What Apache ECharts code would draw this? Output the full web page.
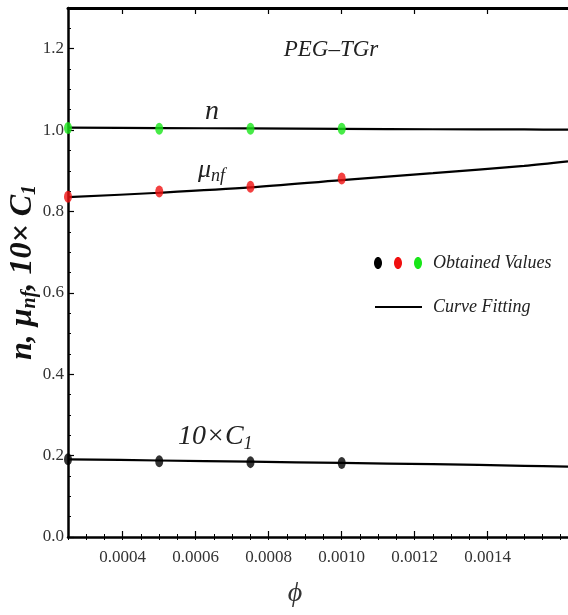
<!DOCTYPE html>
<html><head><meta charset="utf-8">
<script src="https://cdn.jsdelivr.net/npm/echarts@6/dist/echarts.min.js"></script>
<style>html,body{margin:0;padding:0;background:#fff}#c{width:568px;height:615px}</style>
</head><body><div id="c"></div>
<script>
// Observed data
const phiPoints = [0.00025, 0.0005, 0.00075, 0.001];
const nValues = [1.005, 1.003, 1.003, 1.003];
const muValues = [0.836, 0.849, 0.861, 0.881];
const c1Values = [0.191, 0.186, 0.184, 0.182];
// Fitted curves
const phiFit = [0.00025, 0.0005, 0.00075, 0.001, 0.00125, 0.0015, 0.00162];
const nFit = [1.006, 1.005, 1.004, 1.003, 1.002, 1.0015, 1.001];
const muFit = [0.835, 0.846, 0.859, 0.877, 0.894, 0.912, 0.923];
const c1Fit = [0.191, 0.188, 0.185, 0.182, 0.179, 0.175, 0.173];
// Tick labels
const xTicks = [0.0004, 0.0006, 0.0008, 0.0010, 0.0012, 0.0014];
const yTicks = [0.0, 0.2, 0.4, 0.6, 0.8, 1.0, 1.2];

const xMinor = [];
for (let i = 5; i <= 32; i++) xMinor.push(+(i * 0.00005).toFixed(5));
const yMinor = [];
for (let i = 0; i <= 26; i++) yMinor.push(+(i * 0.05).toFixed(2));

const zip = (xs, ys) => xs.map((x, i) => [x, ys[i]]);
const serif = '"Liberation Serif", "DejaVu Serif", serif';
const XMIN = 0.00025, XMAX = 0.00162, YMIN = 0, YMAX = 1.3;

const chart = echarts.init(document.getElementById('c'), null, {renderer: 'canvas'});
const grid = {left: 68, right: 0, top: 8, bottom: 78, containLabel: false, outerBoundsMode: 'none'};

function xAx(pos, opts) {
  return Object.assign({
    type: 'value', min: XMIN, max: XMAX, position: pos, splitLine: {show: false},
    axisLine: {show: false}, axisTick: {show: false}, axisLabel: {show: false}
  }, opts);
}
function yAx(pos, opts) {
  return Object.assign({
    type: 'value', min: YMIN, max: YMAX, position: pos, splitLine: {show: false},
    axisLine: {show: false}, axisTick: {show: false}, axisLabel: {show: false}
  }, opts);
}

chart.setOption({
  animation: false,
  grid: grid,
  xAxis: [
    xAx('bottom', {
      axisLine: {show: true, onZero: false, lineStyle: {color: '#000', width: 2.5}},
      axisTick: {show: true, inside: true, length: 6, customValues: xTicks, lineStyle: {color: '#000', width: 1.2}},
      axisLabel: {show: true, customValues: xTicks, formatter: v => v.toFixed(4), fontFamily: serif, fontSize: 17, color: '#333', margin: 12}
    }),
    xAx('bottom', {
      axisTick: {show: true, inside: true, length: 3, customValues: xMinor, lineStyle: {color: '#000', width: 1}}
    }),
    xAx('top', {
      axisLine: {show: true, onZero: false, lineStyle: {color: '#000', width: 3}},
      axisTick: {show: true, inside: true, length: 6, customValues: xTicks, lineStyle: {color: '#000', width: 1.2}}
    }),
    xAx('top', {
      axisTick: {show: true, inside: true, length: 3, customValues: xMinor, lineStyle: {color: '#000', width: 1}}
    })
  ],
  yAxis: [
    yAx('left', {
      axisLine: {show: true, onZero: false, lineStyle: {color: '#000', width: 2.5}},
      axisTick: {show: true, inside: true, length: 6, customValues: yTicks, lineStyle: {color: '#000', width: 1.2}},
      axisLabel: {show: true, customValues: yTicks, formatter: v => v.toFixed(1), fontFamily: serif, fontSize: 17, color: '#333', margin: 4},
      name: '{i|n, μ}{s|nf}{i|, 10× C}{s|1}', nameLocation: 'middle', nameGap: 28, nameRotate: 90,
      nameMoveOverlap: false,
      nameTextStyle: {
        rich: {
          i: {fontFamily: serif, fontStyle: 'italic', fontWeight: 'bold', fontSize: 32, color: '#111'},
          s: {fontFamily: serif, fontStyle: 'italic', fontWeight: 'bold', fontSize: 20, color: '#111', padding: [14, 0, 0, 0]}
        }
      }
    }),
    yAx('left', {
      axisTick: {show: true, inside: true, length: 3, customValues: yMinor, lineStyle: {color: '#000', width: 1}}
    })
  ],
  series: [
    {type: 'line', data: zip(phiFit, nFit), symbol: 'none', smooth: 0.3, lineStyle: {color: '#000', width: 2.2}, z: 2},
    {type: 'line', data: zip(phiFit, muFit), symbol: 'none', smooth: 0.3, lineStyle: {color: '#000', width: 2.2}, z: 2},
    {type: 'line', data: zip(phiFit, c1Fit), symbol: 'none', smooth: 0.3, lineStyle: {color: '#000', width: 2.2}, z: 2},
    {type: 'scatter', data: zip(phiPoints, nValues), symbol: 'circle', symbolSize: [8, 12], itemStyle: {color: '#19e619'}, z: 3},
    {type: 'scatter', data: zip(phiPoints, muValues), symbol: 'circle', symbolSize: [8, 12], itemStyle: {color: '#f01010'}, z: 3},
    {type: 'scatter', data: zip(phiPoints, c1Values), symbol: 'circle', symbolSize: [8, 12], itemStyle: {color: '#000'}, z: 3}
  ],
  graphic: [
    {type: 'text', x: 295, y: 594, style: {text: 'ϕ', font: 'italic 28px ' + serif, fill: '#333', align: 'center', verticalAlign: 'middle'}},
    {type: 'text', x: 331, y: 50, style: {text: 'PEG–TGr', font: 'italic 23px ' + serif, fill: '#222', align: 'center', verticalAlign: 'middle'}},
    {type: 'text', x: 212, y: 112, style: {text: 'n', font: 'italic 28px ' + serif, fill: '#222', align: 'center', verticalAlign: 'middle'}},
    {type: 'text', x: 198, y: 170, style: {
      text: '{a|μ}{b|nf}', align: 'left', verticalAlign: 'middle',
      rich: {a: {font: 'italic 26px ' + serif, fill: '#222'}, b: {font: 'italic 18px ' + serif, fill: '#222', padding: [12, 0, 0, 0]}}
    }},
    {type: 'text', x: 178, y: 437, style: {
      text: '{a|10×C}{b|1}', align: 'left', verticalAlign: 'middle',
      rich: {a: {font: 'italic 28px ' + serif, fill: '#222'}, b: {font: 'italic 18px ' + serif, fill: '#222', padding: [14, 0, 0, 0]}}
    }},
    // legend
    {type: 'ellipse', shape: {cx: 378, cy: 263, rx: 4, ry: 6}, style: {fill: '#000'}},
    {type: 'ellipse', shape: {cx: 398, cy: 263, rx: 4, ry: 6}, style: {fill: '#f01010'}},
    {type: 'ellipse', shape: {cx: 418, cy: 263, rx: 4, ry: 6}, style: {fill: '#19e619'}},
    {type: 'text', x: 433, y: 263, style: {text: 'Obtained Values', font: 'italic 18px ' + serif, fill: '#222', align: 'left', verticalAlign: 'middle'}},
    {type: 'line', shape: {x1: 375, y1: 307, x2: 422, y2: 307}, style: {stroke: '#000', lineWidth: 2}},
    {type: 'text', x: 433, y: 307, style: {text: 'Curve Fitting', font: 'italic 18px ' + serif, fill: '#222', align: 'left', verticalAlign: 'middle'}}
  ]
});
</script>
</body></html>
